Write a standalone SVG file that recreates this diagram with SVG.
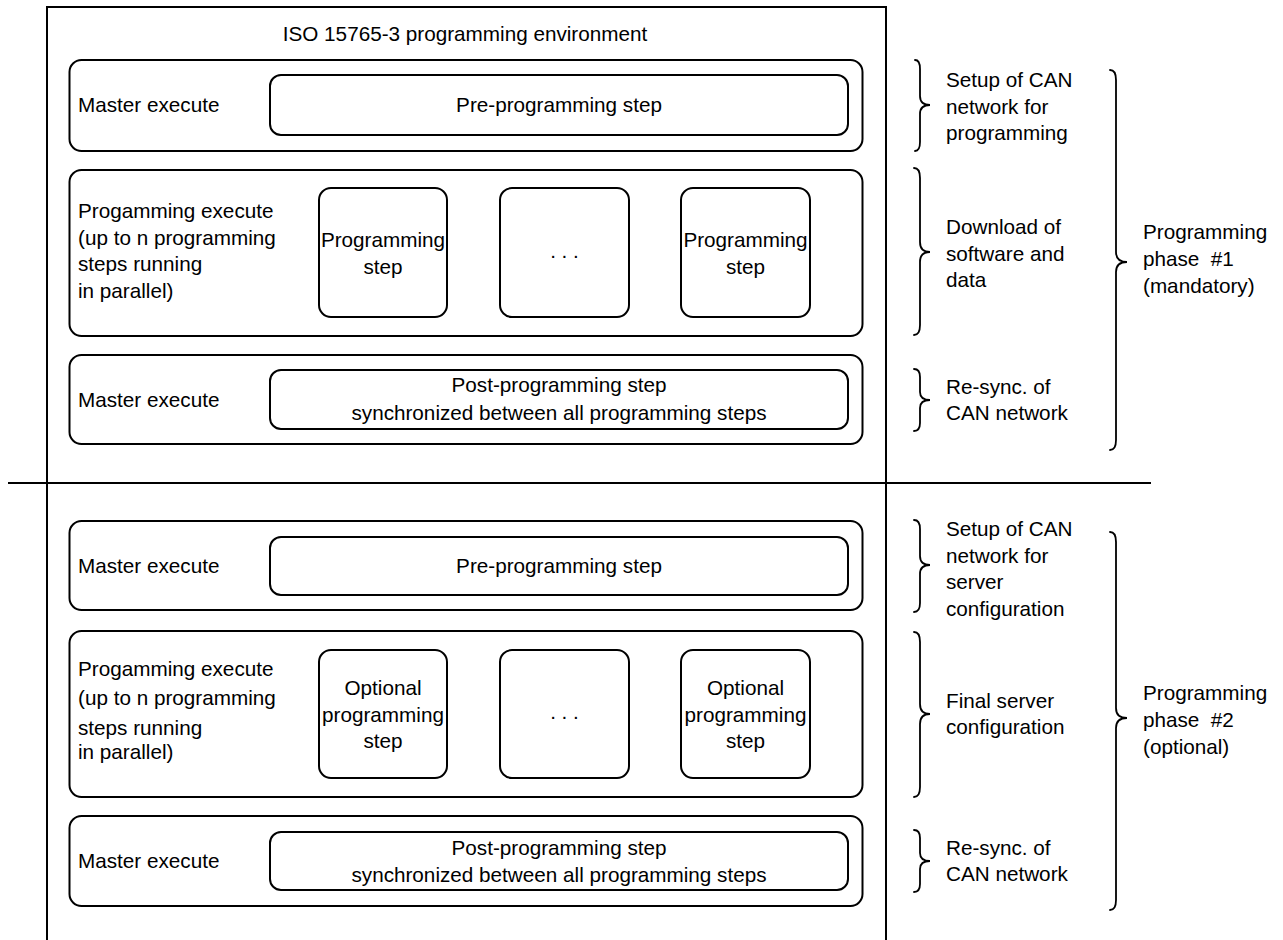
<svg xmlns="http://www.w3.org/2000/svg" width="1283" height="940" viewBox="0 0 1283 940">
<style>
  text { font-family: "Liberation Sans", Arial, sans-serif; font-size: 20.7px; fill: #000; }
  .c { text-anchor: middle; }
  .box { fill: none; stroke: #000; stroke-width: 2; }
  .ln { fill: none; stroke: #000; stroke-width: 2; }
  .br { fill: none; stroke: #000; stroke-width: 1.8; stroke-linecap: round; }
</style>
<rect width="1283" height="940" fill="#fff"/>

<g id="environment">
  <path class="ln" d="M47,945 L47,7 L886,7 L886,945"/>
  <text class="c" x="465" y="41">ISO 15765-3 programming environment</text>
</g>
<g id="separator">
  <line class="ln" x1="8" y1="483" x2="1151" y2="483"/>
</g>

<!-- Phase 1 -->
<g id="p1-master1">
  <rect class="box" x="69.5" y="60" width="793" height="91" rx="12"/>
  <text x="78" y="112">Master execute</text>
</g>
<g id="p1-pre">
  <rect class="box" x="270" y="75" width="578" height="60" rx="11"/>
  <text class="c" x="559" y="112">Pre-programming step</text>
</g>
<g id="p1-prog">
  <rect class="box" x="69.5" y="170" width="793" height="166" rx="12"/>
  <text x="78" y="218">Progamming execute</text>
  <text x="78" y="244.5">(up to n programming</text>
  <text x="78" y="271">steps running</text>
  <text x="78" y="297.5">in parallel)</text>
</g>
<g id="p1-step1">
  <rect class="box" x="319" y="188" width="128" height="129" rx="12"/>
  <text class="c" x="383" y="247">Programming</text>
  <text class="c" x="383" y="274">step</text>
</g>
<g id="p1-step2">
  <rect class="box" x="500" y="188" width="129" height="129" rx="12"/>
  <text class="c" x="564.5" y="258">. . .</text>
</g>
<g id="p1-step3">
  <rect class="box" x="681" y="188" width="129" height="129" rx="12"/>
  <text class="c" x="745.5" y="247">Programming</text>
  <text class="c" x="745.5" y="274">step</text>
</g>
<g id="p1-master2">
  <rect class="box" x="69.5" y="355" width="793" height="89" rx="12"/>
  <text x="78" y="407">Master execute</text>
</g>
<g id="p1-post">
  <rect class="box" x="270" y="370" width="578" height="59" rx="11"/>
  <text class="c" x="559" y="392">Post-programming step</text>
  <text class="c" x="559" y="420">synchronized between all programming steps</text>
</g>

<!-- Phase 2 -->
<g id="p2-master1">
  <rect class="box" x="69.5" y="521" width="793" height="89" rx="12"/>
  <text x="78" y="573">Master execute</text>
</g>
<g id="p2-pre">
  <rect class="box" x="270" y="537" width="578" height="58" rx="11"/>
  <text class="c" x="559" y="573">Pre-programming step</text>
</g>
<g id="p2-prog">
  <rect class="box" x="69.5" y="631" width="793" height="166" rx="12"/>
  <text x="78" y="676">Progamming execute</text>
  <text x="78" y="705">(up to n programming</text>
  <text x="78" y="735">steps running</text>
  <text x="78" y="759">in parallel)</text>
</g>
<g id="p2-step1">
  <rect class="box" x="319" y="650" width="128" height="128" rx="12"/>
  <text class="c" x="383" y="695">Optional</text>
  <text class="c" x="383" y="721.5">programming</text>
  <text class="c" x="383" y="748">step</text>
</g>
<g id="p2-step2">
  <rect class="box" x="500" y="650" width="129" height="128" rx="12"/>
  <text class="c" x="564.5" y="719">. . .</text>
</g>
<g id="p2-step3">
  <rect class="box" x="681" y="650" width="129" height="128" rx="12"/>
  <text class="c" x="745.5" y="695">Optional</text>
  <text class="c" x="745.5" y="721.5">programming</text>
  <text class="c" x="745.5" y="748">step</text>
</g>
<g id="p2-master2">
  <rect class="box" x="69.5" y="816" width="793" height="90" rx="12"/>
  <text x="78" y="868">Master execute</text>
</g>
<g id="p2-post">
  <rect class="box" x="270" y="832" width="578" height="58" rx="11"/>
  <text class="c" x="559" y="855">Post-programming step</text>
  <text class="c" x="559" y="882">synchronized between all programming steps</text>
</g>

<!-- Braces and annotations -->
<g id="connectors">
  <path class="br" d="M915,60 Q920,60 920,69 L920,96 Q920,105 930,105 Q920,105 920,114 L920,142 Q920,151 915,151"/>
  <path class="br" d="M914,168 Q920,168 920,178 L920,242 Q920,252 930,252 Q920,252 920,262 L920,325 Q920,335 914,335"/>
  <path class="br" d="M914,369 Q920,369 920,377 L920,392 Q920,400 930,400 Q920,400 920,408 L920,423 Q920,431 914,431"/>
  <path class="br" d="M1110,70 Q1116,70 1116,80 L1116,252 Q1116,262 1127,262 Q1116,262 1116,272 L1116,440 Q1116,450 1110,450"/>

  <path class="br" d="M914,520 Q920,520 920,529 L920,556 Q920,565 930,565 Q920,565 920,574 L920,603 Q920,612 914,612"/>
  <path class="br" d="M914,632 Q920,632 920,642 L920,704 Q920,714 930,714 Q920,714 920,724 L920,787 Q920,797 914,797"/>
  <path class="br" d="M914,830 Q920,830 920,838 L920,853 Q920,861 930,861 Q920,861 920,869 L920,884 Q920,892 914,892"/>
  <path class="br" d="M1110,532 Q1116,532 1116,542 L1116,708 Q1116,718 1127,718 Q1116,718 1116,728 L1116,900 Q1116,910 1110,910"/>
</g>

<g id="label-p1-setup">
  <text x="946" y="87">Setup of CAN</text>
  <text x="946" y="113.5">network for</text>
  <text x="946" y="140">programming</text>
</g>
<g id="label-p1-download">
  <text x="946" y="234">Download of</text>
  <text x="946" y="260.5">software and</text>
  <text x="946" y="287">data</text>
</g>
<g id="label-p1-resync">
  <text x="946" y="394">Re-sync. of</text>
  <text x="946" y="420">CAN network</text>
</g>
<g id="label-phase1">
  <text x="1143" y="239">Programming</text>
  <text x="1143" y="266" xml:space="preserve">phase  #1</text>
  <text x="1143" y="293">(mandatory)</text>
</g>
<g id="label-p2-setup">
  <text x="946" y="536">Setup of CAN</text>
  <text x="946" y="562.5">network for</text>
  <text x="946" y="589">server</text>
  <text x="946" y="615.5">configuration</text>
</g>
<g id="label-p2-final">
  <text x="946" y="708">Final server</text>
  <text x="946" y="734">configuration</text>
</g>
<g id="label-p2-resync">
  <text x="946" y="855">Re-sync. of</text>
  <text x="946" y="881">CAN network</text>
</g>
<g id="label-phase2">
  <text x="1143" y="700">Programming</text>
  <text x="1143" y="727" xml:space="preserve">phase  #2</text>
  <text x="1143" y="754">(optional)</text>
</g>
</svg>
